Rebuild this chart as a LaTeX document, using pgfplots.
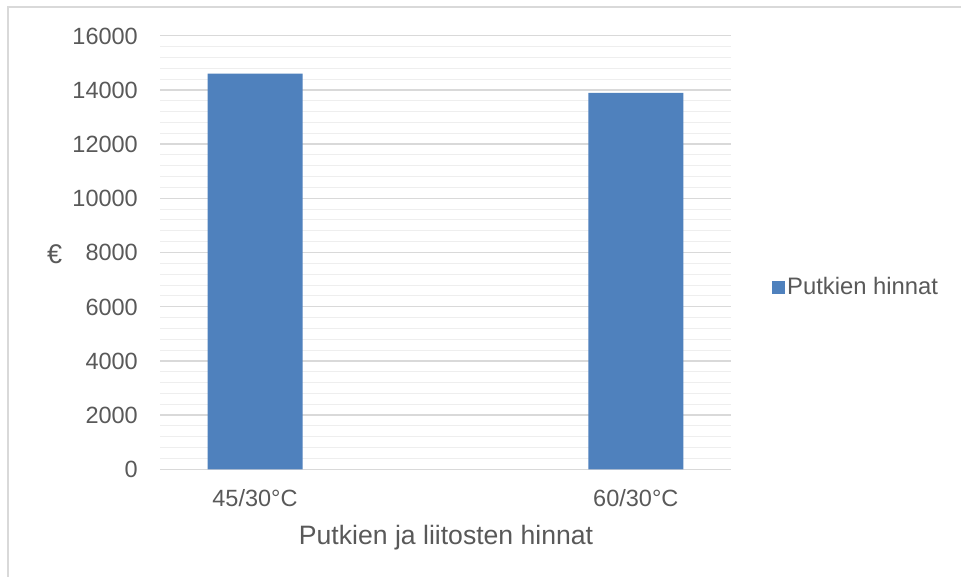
\documentclass[border=0pt]{standalone}
\usepackage{pgfplots}
\pgfplotsset{compat=1.18}
\usepackage{fontspec}
\setmainfont{Liberation Sans}
\definecolor{barblue}{HTML}{4F81BD}
\definecolor{txt}{HTML}{595959}
\definecolor{gmajor}{HTML}{D9D9D9}
\definecolor{gminor}{HTML}{EEEEEE}

\begin{document}
\begin{tikzpicture}
  \path[use as bounding box, fill=white] (0,0) rectangle (961pt,577pt);
  % outer chart border (top and left visible)
  \draw[gmajor, line width=1.2pt] (8pt,0) -- (8pt,570pt) -- (961pt,570pt);
  \begin{axis}[
      at={(160pt,107.7pt)}, anchor=south west,
      scale only axis, width=571pt, height=433.6pt,
      xmin=-0.2495, xmax=1.25,
      ymin=0, ymax=16000,
      ytick distance=2000, minor y tick num=4,
      scaled y ticks=false,
      xtick=data, xticklabels={45/30°C,60/30°C},
      ymajorgrids, yminorgrids,
      major grid style={gmajor, line width=1.3pt},
      minor grid style={gminor, line width=1pt},
      axis line style={draw=none},
      tick style={draw=none},
      font=\fontsize{23.5}{28}\selectfont,
      /pgf/number format/assume math mode=true,
      /pgf/number format/1000 sep={},
      ticklabel style={text=txt},
      xticklabel style={anchor=base, yshift=-37pt},
      yticklabel style={anchor=base east, xshift=-22pt, yshift=-8.5pt, inner sep=0pt},
      every axis x label/.style={at={(rel axis cs:0.501,-0.1723)}, anchor=base,
        font=\fontsize{26.6}{30}\selectfont, text=txt},
      every axis y label/.style={at={(rel axis cs:-0.1845,0.4745)}, anchor=base,
        font=\fontsize{27}{30}\selectfont, text=txt},
      xlabel={Putkien ja liitosten hinnat},
      ylabel={€},
      legend style={at={(rel axis cs:1.0718,0.4204)}, anchor=west, draw=none,
        fill=none, inner sep=0pt, text=txt, font=\fontsize{23.8}{28}\selectfont},
      legend cell align=left,
      legend image code/.code={\fill[#1] (0pt,-6.5pt) rectangle (13pt,6.5pt);},
    ]
    \addplot[ybar, bar width=95pt, bar shift=0pt, fill=barblue, draw=none]
      coordinates {(0,14600) (1,13890)};
    \addlegendentry{Putkien hinnat}
  \end{axis}
\end{tikzpicture}
\end{document}
